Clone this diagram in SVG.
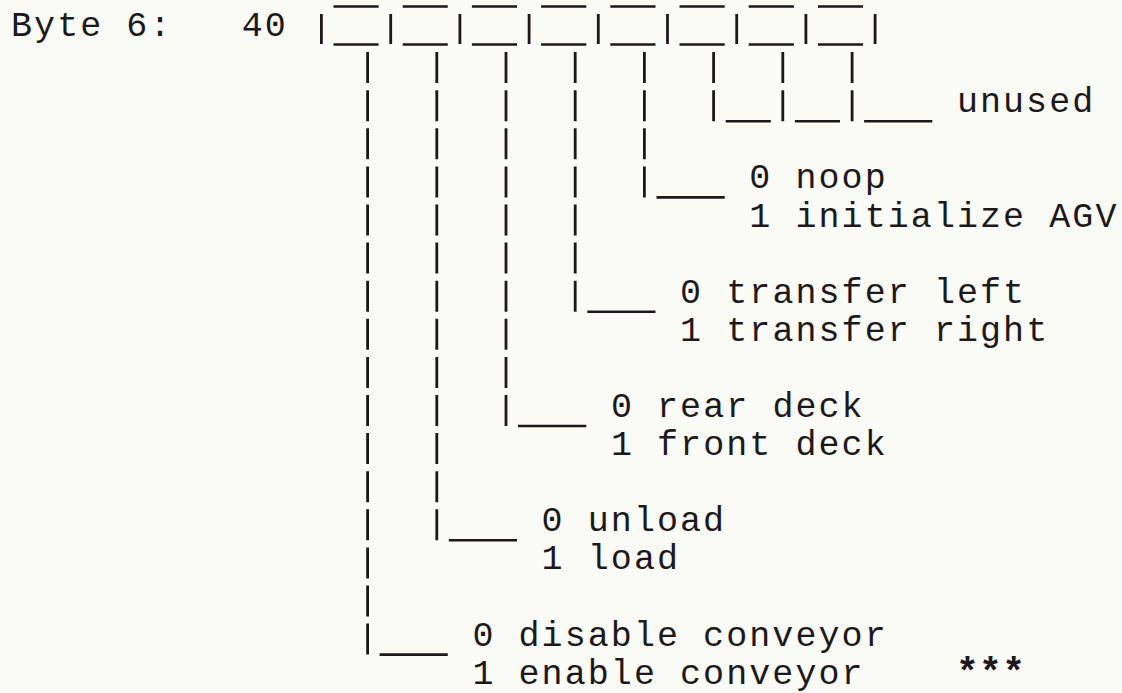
<svg xmlns="http://www.w3.org/2000/svg" width="1122" height="693" viewBox="0 0 1122 693">
<style>
  .t { font-family: "Liberation Mono", "DejaVu Sans Mono", monospace; font-size: 35px; letter-spacing: 2.07px; fill: #1d191b; }
  .ast { font-family: "Liberation Mono", "DejaVu Sans Mono", monospace; font-size: 38px; font-weight: bold; letter-spacing: 0.27px; fill: #1d191b; }
  .v { stroke: #1d191b; stroke-width: 2.8; fill: none; stroke-dasharray: 31 7.1; }
  .b { stroke: #1d191b; stroke-width: 2.8; fill: none; }
  .h { stroke: #1d191b; stroke-width: 2.6; fill: none; }
</style>
<rect x="0" y="0" width="1122" height="693" fill="#fafaf6"/>

<g id="register">
  <text class="t" x="11" y="36">Byte 6:</text>
  <text class="t" x="241.7" y="36">40</text>
  <g id="cell-bars">
    <line class="b" x1="321.4" y1="14" x2="321.4" y2="44"/>
    <line class="b" x1="390.7" y1="14" x2="390.7" y2="44"/>
    <line class="b" x1="459.9" y1="14" x2="459.9" y2="44"/>
    <line class="b" x1="529.1" y1="14" x2="529.1" y2="44"/>
    <line class="b" x1="598.3" y1="14" x2="598.3" y2="44"/>
    <line class="b" x1="667.5" y1="14" x2="667.5" y2="44"/>
    <line class="b" x1="736.7" y1="14" x2="736.7" y2="44"/>
    <line class="b" x1="805.9" y1="14" x2="805.9" y2="44"/>
    <line class="b" x1="875.1" y1="14" x2="875.1" y2="44"/>
  </g>
  <path class="h" d="M333.5 6.5H378.6M402.7 6.5H447.8M471.9 6.5H517M541.1 6.5H586.3M610.3 6.5H655.5M679.5 6.5H724.7M748.7 6.5H793.9M818 6.5H863.1"/>
  <path class="h" d="M333.5 44.5H378.6M402.7 44.5H447.8M471.9 44.5H517M541.1 44.5H586.3M610.3 44.5H655.5M679.5 44.5H724.7M748.7 44.5H793.9M818 44.5H863.1"/>
</g>

<g id="connectors">
  <line class="v" x1="367.6" y1="52.1" x2="367.6" y2="654.6"/>
  <line class="v" x1="436.8" y1="52.1" x2="436.8" y2="540.3"/>
  <line class="v" x1="506.0" y1="52.1" x2="506.0" y2="426"/>
  <line class="v" x1="575.2" y1="52.1" x2="575.2" y2="311.7"/>
  <line class="v" x1="644.4" y1="52.1" x2="644.4" y2="197.4"/>
  <line class="v" x1="713.6" y1="52.1" x2="713.6" y2="121.2"/>
  <line class="v" x1="782.8" y1="52.1" x2="782.8" y2="121.2"/>
  <line class="v" x1="852.1" y1="52.1" x2="852.1" y2="121.2"/>
  <path class="h" d="M379.6 654.6H447.8"/>
  <path class="h" d="M448.8 540.3H517"/>
  <path class="h" d="M518 426H586.3"/>
  <path class="h" d="M587.3 311.7H655.5"/>
  <path class="h" d="M656.5 197.4H724.7"/>
  <path class="h" d="M725.7 121.2H770.8M794.9 121.2H840M864.1 121.2H932.3"/>
</g>

<g id="bits-unused">
  <text class="t" x="956.9" y="112.2">unused</text>
</g>
<g id="bit-init">
  <text class="t" x="749.3" y="188.4">0 noop</text>
  <text class="t" x="749.3" y="226.5">1 initialize AGV</text>
</g>
<g id="bit-transfer">
  <text class="t" x="680.1" y="302.7">0 transfer left</text>
  <text class="t" x="680.1" y="340.8">1 transfer right</text>
</g>
<g id="bit-deck">
  <text class="t" x="610.9" y="417">0 rear deck</text>
  <text class="t" x="610.9" y="455.1">1 front deck</text>
</g>
<g id="bit-load">
  <text class="t" x="541.6" y="531.3">0 unload</text>
  <text class="t" x="541.6" y="569.4">1 load</text>
</g>
<g id="bit-conveyor">
  <text class="t" x="472.4" y="645.6">0 disable conveyor</text>
  <text class="t" x="472.4" y="683.7">1 enable conveyor</text>
  <text class="ast" x="956" y="683.7">***</text>
</g>
</svg>
